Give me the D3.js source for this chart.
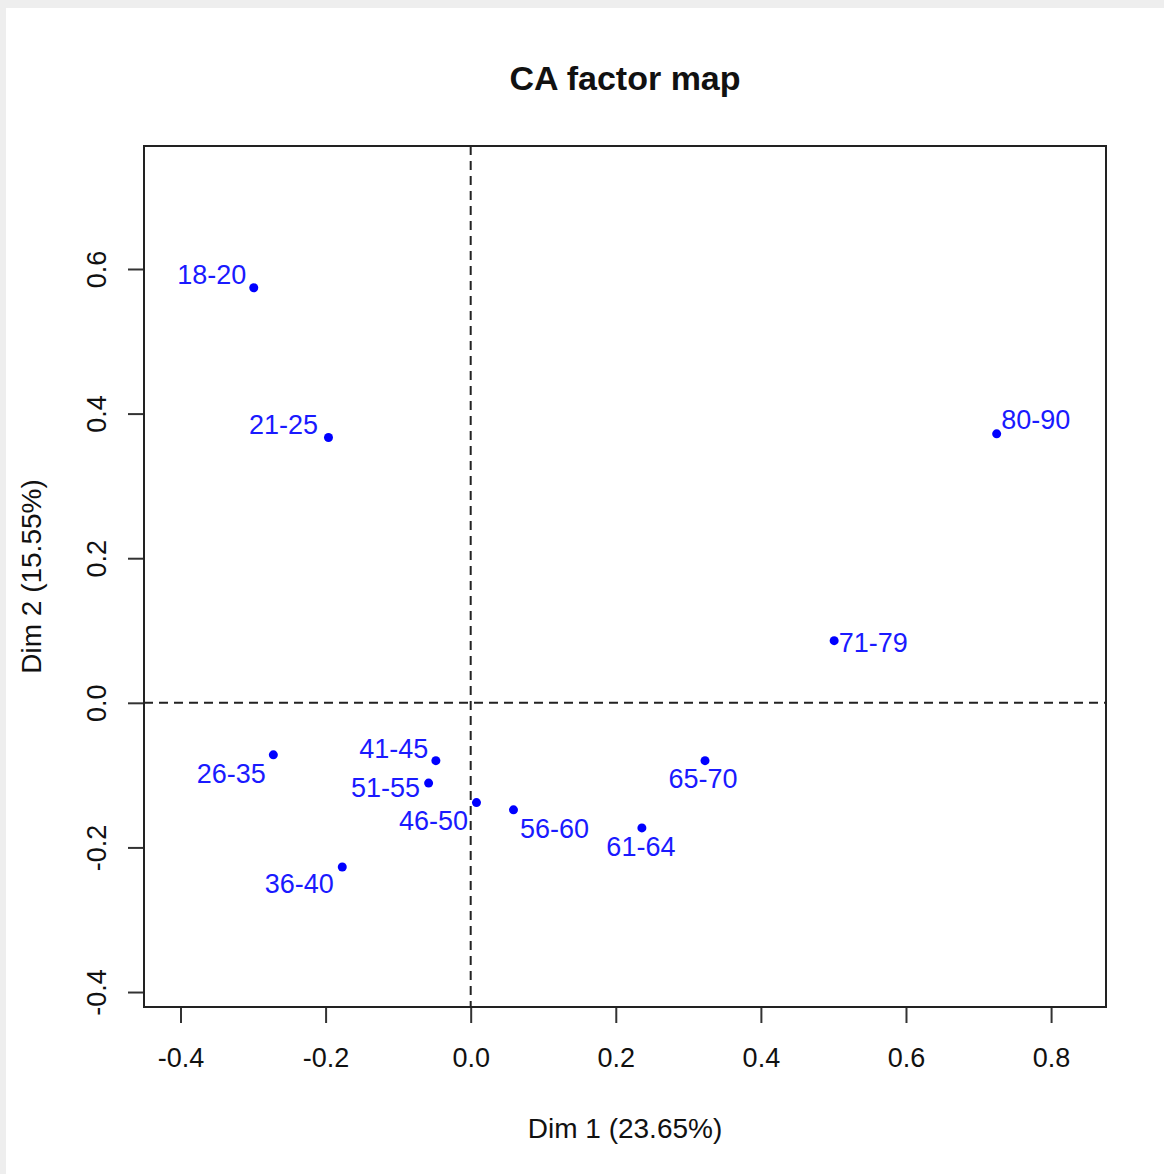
<!DOCTYPE html>
<html>
<head>
<meta charset="utf-8">
<script src="https://cdn.jsdelivr.net/npm/d3@7"></script>
<style>
  html, body { margin: 0; padding: 0; background: #ffffff; }
  svg text { font-family: "Liberation Sans", Arial, sans-serif; }
</style>
</head>
<body>
<div id="chart"></div>
<script>
// age groups (column categories of the CA)
let ageGroups = ["18-20", "21-25", "26-35", "36-40", "41-45", "46-50",
                 "51-55", "56-60", "61-64", "65-70", "71-79", "80-90"]
// coordinates on Dim 1 and Dim 2
let dim1 = [-0.299, -0.196, -0.272, -0.177, -0.048, 0.008,
            -0.058, 0.059, 0.236, 0.323, 0.501, 0.725]
let dim2 = [0.574, 0.367, -0.072, -0.227, -0.080, -0.138,
            -0.111, -0.148, -0.173, -0.080, 0.086, 0.372]

let xTicks = [-0.4, -0.2, 0.0, 0.2, 0.4, 0.6, 0.8]
let yTicks = [-0.4, -0.2, 0.0, 0.2, 0.4, 0.6]

let chartTitle = "CA factor map"
let xTitle = "Dim 1 (23.65%)"
let yTitle = "Dim 2 (15.55%)"

// where each label sits relative to its point (like autoLab placement)
let labelOffsets = {
    "18-20": [-42, -4], "21-25": [-45, -3], "26-35": [-42, 28],
    "36-40": [-43, 26], "41-45": [-42, -3], "46-50": [-43, 27],
    "51-55": [-43, 14], "56-60": [41, 28], "61-64": [-1, 28],
    "65-70": [-2, 27], "71-79": [39, 11], "80-90": [39, -5]
}

const W = 1164, H = 1174
const plot = {left: 144, right: 1106, top: 146, bottom: 1007}

let svg = d3.select("#chart").append("svg")
    .attr("width", W)
    .attr("height", H)

// grey frame of the viewer window
svg.append("rect").attr("width", W).attr("height", H).attr("fill", "#eeeeee")
svg.append("rect").attr("x", 6).attr("y", 8)
    .attr("width", W - 6).attr("height", H - 8).attr("fill", "#ffffff")

let x = d3.scaleLinear().domain([-0.4503, 0.8757]).range([plot.left, plot.right])
let y = d3.scaleLinear().domain([-0.4207, 0.7701]).range([plot.bottom, plot.top])

// R style labels: plain hyphen for the minus sign
let fmt = d => d3.format(".1f")(d).replace("\u2212", "-")

// axes
let xAxis = svg.append("g")
    .attr("transform", "translate(0," + plot.bottom + ")")
    .call(d3.axisBottom(x).tickValues(xTicks).tickFormat(fmt)
        .tickSize(16).tickPadding(25))
xAxis.select(".domain").remove()

let yAxis = svg.append("g")
    .attr("transform", "translate(" + plot.left + ",0)")
    .call(d3.axisLeft(y).tickValues(yTicks).tickFormat(fmt)
        .tickSize(16))
yAxis.select(".domain").remove()

svg.selectAll(".tick line").attr("stroke", "#333").attr("stroke-width", 2)
xAxis.selectAll(".tick text")
    .attr("font-size", 27).attr("fill", "#111")
    .attr("font-family", "Liberation Sans, Arial, sans-serif")
yAxis.selectAll(".tick text")
    .attr("font-size", 27).attr("fill", "#111")
    .attr("font-family", "Liberation Sans, Arial, sans-serif")
    .attr("text-anchor", "middle")
    .attr("x", null).attr("dy", null)
    .attr("transform", "translate(-38,0) rotate(-90)")

// reference lines at zero
svg.append("line")
    .attr("x1", x(0)).attr("x2", x(0))
    .attr("y1", plot.top).attr("y2", plot.bottom)
    .attr("stroke", "#222").attr("stroke-width", 2).attr("stroke-dasharray", "9,6")
svg.append("line")
    .attr("x1", plot.left).attr("x2", plot.right)
    .attr("y1", y(0)).attr("y2", y(0))
    .attr("stroke", "#222").attr("stroke-width", 2).attr("stroke-dasharray", "9,6")

// plot box
svg.append("rect")
    .attr("x", plot.left).attr("y", plot.top)
    .attr("width", plot.right - plot.left).attr("height", plot.bottom - plot.top)
    .attr("fill", "none").attr("stroke", "#222").attr("stroke-width", 2)

let points = ageGroups.map((d, i) => ({name: d, d1: dim1[i], d2: dim2[i]}))

svg.selectAll("circle.pt")
    .data(points)
    .enter().append("circle")
    .attr("class", "pt")
    .attr("cx", d => x(d.d1))
    .attr("cy", d => y(d.d2))
    .attr("r", 4.5)
    .attr("fill", "#0000ff")

svg.selectAll("text.lab")
    .data(points)
    .enter().append("text")
    .attr("class", "lab")
    .attr("x", d => x(d.d1) + labelOffsets[d.name][0])
    .attr("y", d => y(d.d2) + labelOffsets[d.name][1])
    .attr("text-anchor", "middle")
    .attr("font-size", 27)
    .attr("fill", "#1a1aff")
    .text(d => d.name)

// titles
svg.append("text")
    .attr("x", (plot.left + plot.right) / 2).attr("y", 90)
    .attr("text-anchor", "middle")
    .attr("font-size", 34).attr("font-weight", "bold").attr("fill", "#111")
    .text(chartTitle)

svg.append("text")
    .attr("x", (plot.left + plot.right) / 2).attr("y", 1138)
    .attr("text-anchor", "middle")
    .attr("font-size", 28).attr("fill", "#111")
    .text(xTitle)

svg.append("text")
    .attr("transform", "translate(41," + (plot.top + plot.bottom) / 2 + ") rotate(-90)")
    .attr("text-anchor", "middle")
    .attr("font-size", 28).attr("fill", "#111")
    .text(yTitle)
</script>
</body>
</html>
